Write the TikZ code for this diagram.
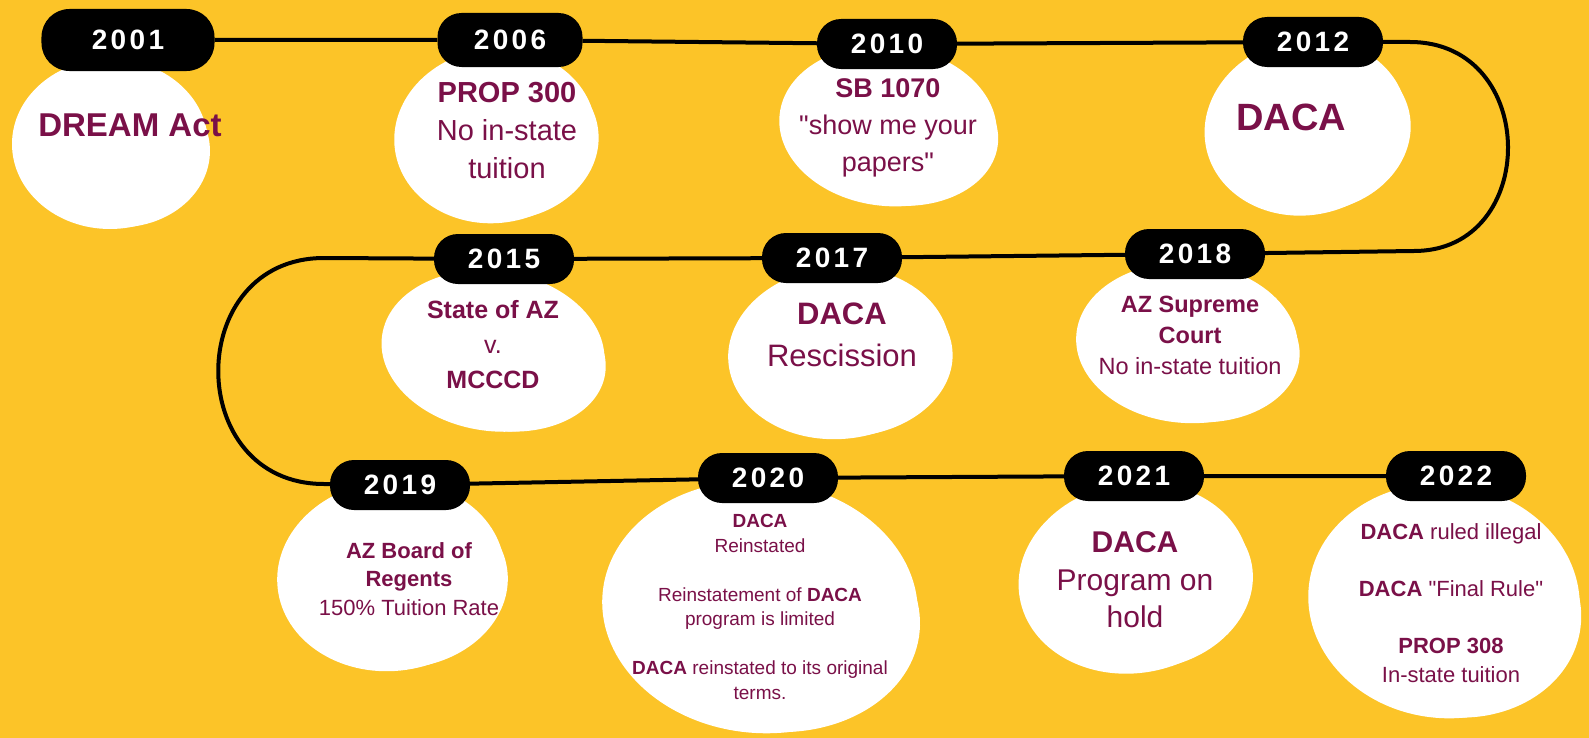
\documentclass[tikz,border=0pt]{standalone}
\usepackage{fontspec}
\setmainfont{Liberation Sans}
\newfontfamily\yearfont{Liberation Sans}[LetterSpace=12]
\definecolor{bgyellow}{RGB}{252,196,40}
\definecolor{maroon}{RGB}{122,16,72}
\newcommand\fs[2]{\fontsize{#1bp}{#2bp}\selectfont}
\newcommand\blob[5]{\fill[white,rotate around={#5:(#1,#2)}] (#1,#2) ellipse [x radius=#3, y radius=#4];
  \fill[white,rotate around={#5:(#1,#2)}] ($(#1,#2)+(0.1*#3,0.08*#4)$) ellipse [x radius=0.92*#3, y radius=0.9*#4];}
\usetikzlibrary{calc}

\begin{document}
\begin{tikzpicture}[x=1bp,y=-1bp,
      year/.style={fill=black, text=white, rounded corners=24bp, minimum width=140bp, minimum height=50bp, inner sep=0, font=\yearfont\bfseries\fs{28}{30}},
      event/.style={text=maroon, align=center, inner sep=0},
      timeline/.style={draw, line width=4bp}
      ]
      \useasboundingbox (0,0) rectangle (1589,738);
      \fill[bgyellow] (0,0) rectangle (1589,738);

      \blob{110}{144}{98}{85}{0}
      \blob{495}{136}{101}{87}{8}
      \blob{888}{126}{109}{80}{-6}
      \blob{1306}{127}{102}{88}{12}
      \blob{493}{351}{112}{80}{-8}
      \blob{839}{353}{111}{86}{5}
      \blob{1187}{343}{111}{80}{-4}
      \blob{391}{576}{114}{95}{6}
      \blob{760}{607}{158}{126}{-5}
      \blob{1134}{578}{116}{95}{10}
      \blob{1444}{601}{136}{117}{-7}

      \node[year, minimum width=173bp, minimum height=62bp, rounded corners=28bp] (y2001) at (128,40) {2001};
      \node[year, minimum width=145bp, minimum height=54bp] (y2006) at (510,40) {2006};
      \node[year] (y2010) at (887,44) {2010};
      \node[year] (y2012) at (1313,42) {2012};
      \node[year] (y2015) at (504,259) {2015};
      \node[year] (y2017) at (832,258) {2017};
      \node[year] (y2018) at (1195,254) {2018};
      \node[year] (y2019) at (400,485) {2019};
      \node[year] (y2020) at (768,478) {2020};
      \node[year] (y2021) at (1134,476) {2021};
      \node[year] (y2022) at (1456,476) {2022};

      \coordinate (r1) at (1410,42);
      \coordinate (r2) at (1414,251);
      \coordinate (l1) at (324,258);
      \coordinate (l2) at (324,484);
      \draw[timeline] (y2001) -- (y2006) -- (y2010) -- (y2012) -- (r1) .. controls (1540,42) and (1540,251) .. (r2) -- (y2018) -- (y2017) -- (y2015) -- (l1) .. controls (183,258) and (183,484) .. (l2) -- (y2019) -- (y2020) -- (y2021) -- (y2022);

      \node[event, font=\bfseries\fs{33}{38}] (t2001) at (130,125) {DREAM Act};
      \node[event, font=\fs{29}{38}] (t2006) at (507,131) {\textbf{PROP 300}\\No in-state\\tuition};
      \node[event, font=\fs{27}{37}] (t2010) at (888,128) {\textbf{SB 1070}\\\textquotedbl show me your\\papers\textquotedbl};
      \node[event, font=\bfseries\fs{38}{44}] (t2012) at (1291,117) {DACA};
      \node[event, font=\fs{25}{35}] (t2015) at (493,345) {\textbf{State of AZ}\\v.\\\textbf{MCCCD}};
      \node[event, font=\fs{31}{42}] (t2017) at (842,335) {\textbf{DACA}\\Rescission};
      \node[event, font=\fs{23.5}{31}] (t2018) at (1190,335) {\textbf{AZ Supreme}\\\textbf{Court}\\No in-state tuition};
      \node[event, font=\fs{22}{28.5}] (t2019) at (409,579) {\textbf{AZ Board of}\\\textbf{Regents}\\150\% Tuition Rate};
      \node[event, font=\fs{19}{24.5}] (t2020) at (760,607) {\textbf{DACA}\\Reinstated\\[24.5bp]Reinstatement of \textbf{DACA}\\program is limited\\[24.5bp]\textbf{DACA} reinstated to its original\\terms.};
      \node[event, font=\fs{30}{37.5}] (t2021) at (1135,580) {\textbf{DACA}\\Program on\\hold};
      \node[event, font=\fs{22}{28.5}] (t2022) at (1451,603) {\textbf{DACA} ruled illegal\\[28.5bp]\textbf{DACA} \textquotedbl Final Rule\textquotedbl\\[28.5bp]\textbf{PROP 308}\\In-state tuition};
    \end{tikzpicture}
\end{document}
